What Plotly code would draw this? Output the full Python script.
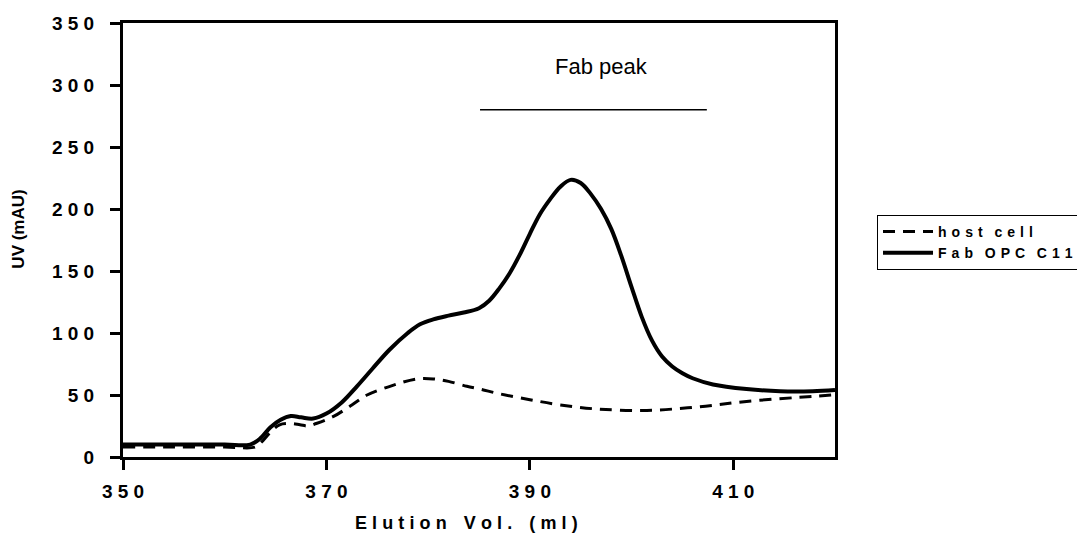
import plotly.graph_objects as go

# ---- data ----
fab_x = [350, 355, 360, 362.5, 363.5, 364.5, 365.5, 366.5, 367.5, 368.7, 370, 371.5, 373, 374.5,
         376.2, 378, 379.2, 380.5, 382, 383.5, 385, 386, 387, 388, 389, 390, 391, 392, 393,
         394, 395, 396, 397, 398, 399, 400, 401, 402, 403, 404, 405, 406, 408, 411.3, 414.6,
         417.8, 420]
fab_y = [10, 10, 10, 10, 15, 24, 30, 33, 32, 31, 35, 44, 57, 71,
         86.5, 100, 107, 111, 114, 116.5, 120, 126, 136, 148, 163, 180, 196, 208, 218,
         223.5, 221, 212, 200, 184, 162, 137, 113, 94, 81, 73, 67.5, 63.5, 58.5, 54.8, 53,
         53, 54]

host_x = [350, 355, 360, 363, 363.5, 364.5, 365.4, 366.5, 367.4, 368.2, 369, 370.7, 372.5, 374,
          376.6, 378.9, 380.5, 382, 383.8, 385.1, 387, 390, 393, 396.6, 401.5, 406.4, 411.3,
          417.8, 420]
host_y = [8, 8, 8, 8, 11, 20, 26, 27, 26, 25, 27, 32.7, 42, 50,
          58, 63, 63, 61, 57, 54.8, 51, 46.2, 42, 38.7, 37.6, 40.3, 44.8,
          48.9, 50.2]

peak_line_x = [385.1, 407.4]
peak_line_y = [280, 280]
peak_label = "Fab peak"
peak_label_x = 397
peak_label_y = 315

x_tick_vals = [350, 370, 390, 410]
x_tick_labels = ["350", "370", "390", "410"]
y_tick_vals = [0, 50, 100, 150, 200, 250, 300, 350]
y_tick_labels = ["0", "50", "100", "150", "200", "250", "300", "350"]

series_names = ["host cell", "Fab OPC C11"]
x_title = "Elution Vol. (ml)"
y_title = "UV (mAU)"


def spaced(s, sep, wordsep):
    words = s.split(" ")
    return wordsep.join(sep.join(list(w)) for w in words)


NB = "\u00a0"
THIN = "\u2009"
HAIR = "\u200a"
FONT = "Liberation Sans"

fig = go.Figure()
fig.add_trace(go.Scatter(
    x=host_x, y=host_y, mode="lines", line_shape="spline",
    name=spaced(series_names[0], NB + HAIR, NB * 3),
    line=dict(color="black", width=3, dash="12px,8px"),
))
fig.add_trace(go.Scatter(
    x=fab_x, y=fab_y, mode="lines", line_shape="spline",
    name=spaced(series_names[1], NB + HAIR, NB * 3),
    line=dict(color="black", width=4),
))
fig.add_trace(go.Scatter(
    x=peak_line_x, y=peak_line_y, mode="lines", showlegend=False,
    line=dict(color="black", width=1.5), hoverinfo="skip",
))

tick_font = dict(family=FONT, size=19, color="black", weight="bold")

fig.update_xaxes(
    range=[350, 420], tickvals=x_tick_vals,
    ticktext=[spaced(t, NB, NB) for t in x_tick_labels],
    ticks="outside", ticklen=10, tickwidth=3, tickcolor="black",
    showline=True, linewidth=3, linecolor="black", mirror=True,
    showgrid=False, zeroline=False, tickfont=tick_font, ticklabelstandoff=5,
)
fig.update_yaxes(
    range=[0, 350], tickvals=y_tick_vals,
    ticktext=[spaced(t, NB, NB) for t in y_tick_labels],
    ticks="outside", ticklen=10, tickwidth=3, tickcolor="black",
    showline=True, linewidth=3, linecolor="black", mirror=True,
    showgrid=False, zeroline=False, tickfont=tick_font, ticklabelstandoff=12,
)

fig.add_annotation(
    x=peak_label_x, y=peak_label_y, xref="x", yref="y", text=peak_label,
    showarrow=False, font=dict(family=FONT, size=22, color="black"),
    xanchor="center", yanchor="middle",
)
fig.add_annotation(
    x=0.482, y=-0.153, xref="paper", yref="paper",
    text=spaced(x_title, THIN + HAIR, NB + THIN + NB + THIN),
    showarrow=False, font=dict(family=FONT, size=18, color="black", weight="bold"),
    xanchor="center", yanchor="middle",
)
fig.add_annotation(
    x=-0.146, y=0.524, xref="paper", yref="paper", text=y_title, textangle=-90,
    showarrow=False, font=dict(family=FONT, size=17, color="black", weight="bold"),
    xanchor="center", yanchor="middle",
)

fig.update_layout(
    width=1077, height=538,
    margin=dict(l=123, r=242, t=23, b=81, autoexpand=False),
    paper_bgcolor="white", plot_bgcolor="white",
    showlegend=True,
    legend=dict(
        x=1.059, y=0.558, xanchor="left", yanchor="top",
        bordercolor="black", borderwidth=1, bgcolor="white",
        font=dict(family=FONT, size=14, color="black", weight="bold"),
        tracegroupgap=0, itemwidth=50,
    ),
)

fig.write_html("out.html")
